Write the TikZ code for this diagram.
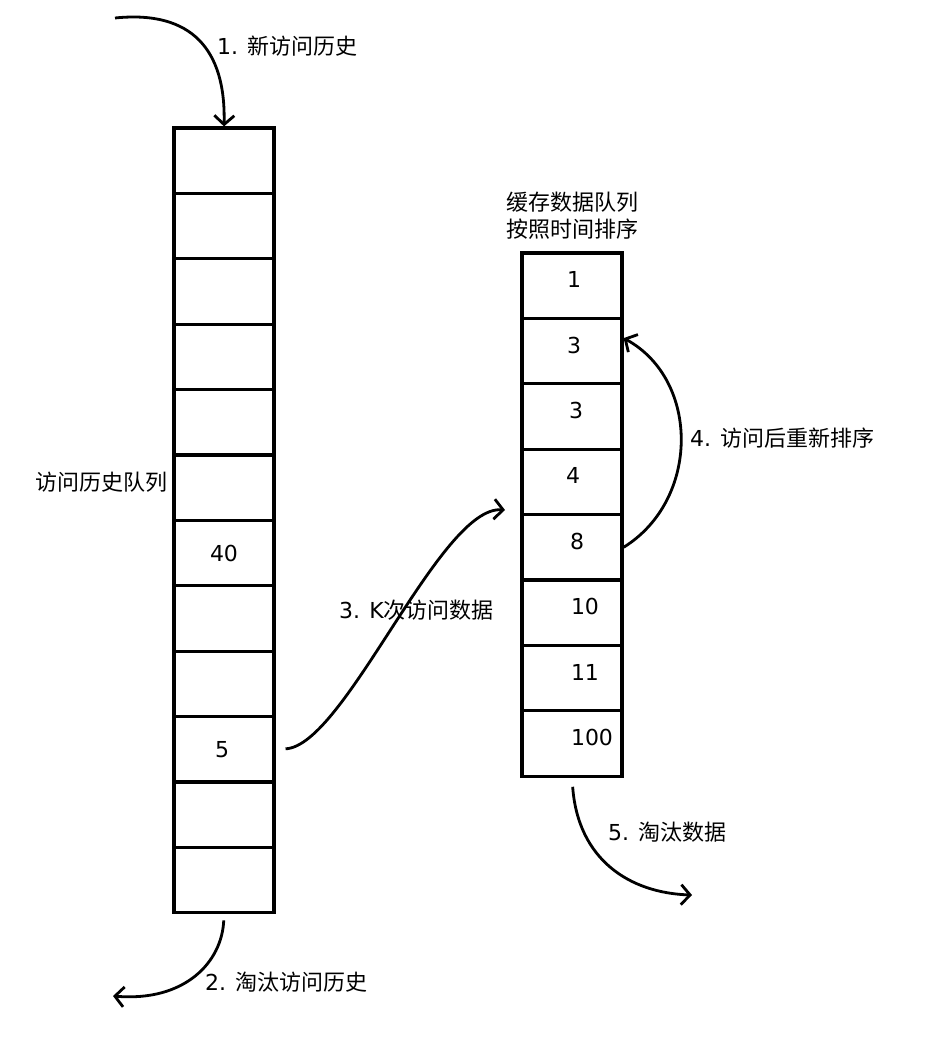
\documentclass[tikz,border=0pt]{standalone}
\usepackage{fontspec}
\setmainfont{DejaVu Sans}
\newfontfamily\zh{Noto Sans CJK SC}
\usetikzlibrary{arrows.meta}

\begin{document}
\begin{tikzpicture}[x=1pt,y=-1pt,
	cell/.style={draw,line width=3.2pt,minimum width=100pt,minimum height=65.4pt,inner sep=0pt},
	flow/.style={line width=2.8pt,-{Straight Barb[length=9pt,width=20pt]}},
	lbl/.style={inner sep=0pt,font=\fontsize{22}{27}\selectfont}]
	\useasboundingbox (0,0) rectangle (926,1037);

	%History queue
	\foreach \i in {1,...,12}
		\node[cell] at (224,{128+65.4*(\i-0.5)}) (h\i) {};
	\node[lbl] at (h7) (h7txt) {40};
	\node[lbl] at ([xshift=-2pt]h10.center) (h10txt) {5};
	\node[lbl,anchor=east] at (168,482) (hname) {\zh 访问历史队列};

	%Cache queue
	\foreach \i in {1,...,8}
		\node[cell] at (572,{253+65.4*(\i-0.5)}) (c\i) {};
	\foreach \i/\v/\dx in {1/1/2,2/3/2,3/3/4,4/4/1,5/8/5,6/10/13,7/11/13,8/100/20}
		\node[lbl] at ([xshift=\dx pt,yshift=6pt]c\i.center) (c\i txt) {\v};
	\node[lbl,align=center,anchor=south] at ([yshift=12pt]c1.north) (cname) {\zh 缓存数据队列\\\zh 按照时间排序};

	%Arrows
	\coordinate (new) at (115,18);
	\coordinate (out1) at (113,996);
	\coordinate (hit) at (505,510);
	\coordinate (out2) at (692,895);
	\draw[flow] (new) .. controls (192,10) and (226,50) .. (h1.north);
	\node[lbl,anchor=west] at (217,46) (l1) {1. {\zh 新访问历史}};
	\draw[flow,shorten <=6pt] (h12.south) .. controls (222,962) and (185,1002) .. (out1);
	\node[lbl,anchor=west] at (205,982) (l2) {2. {\zh 淘汰访问历史}};
	\draw[flow,shorten <=10pt] (h10.east) .. controls (345,746) and (440,505) .. (hit);
	\node[lbl,anchor=west] at (339,610) (l3) {3. K{\zh 次访问数据}};
	\draw[flow] (c5.east) .. controls (700,500) and (700,380) .. ([yshift=13pt]c2.east);
	\node[lbl,anchor=west] at (690,438) (l4) {4. {\zh 访问后重新排序}};
	\draw[flow,shorten <=9pt] (c8.south) .. controls (578,860) and (630,893) .. (out2);
	\node[lbl,anchor=west] at (608,832) (l5) {5. {\zh 淘汰数据}};

\end{tikzpicture}
\end{document}
